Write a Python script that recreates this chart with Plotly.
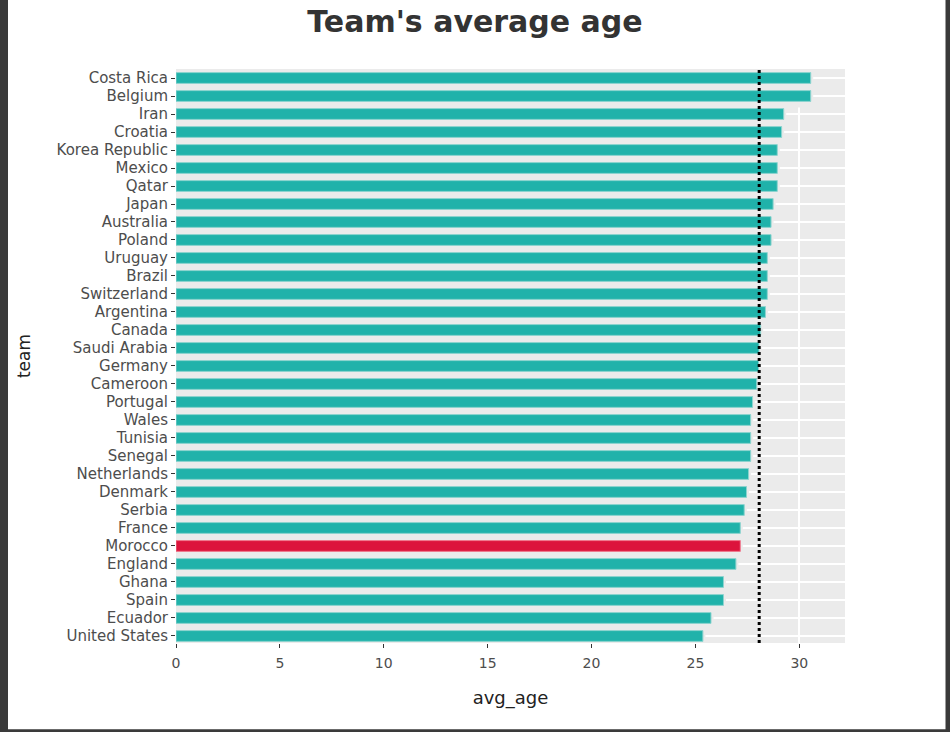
import plotly.graph_objects as go

# teams from the top of the chart down, with average squad age
teams = ["Costa Rica", "Belgium", "Iran", "Croatia", "Korea Republic", "Mexico",
         "Qatar", "Japan", "Australia", "Poland", "Uruguay", "Brazil",
         "Switzerland", "Argentina", "Canada", "Saudi Arabia", "Germany",
         "Cameroon", "Portugal", "Wales", "Tunisia", "Senegal", "Netherlands",
         "Denmark", "Serbia", "France", "Morocco", "England", "Ghana", "Spain",
         "Ecuador", "United States"]
avg_age = [30.55, 30.55, 29.25, 29.15, 28.94, 28.94,
           28.94, 28.74, 28.64, 28.64, 28.46, 28.46,
           28.46, 28.37, 28.14, 28.06, 28.04,
           27.95, 27.75, 27.66, 27.66, 27.66, 27.56,
           27.46, 27.35, 27.16, 27.16, 26.95, 26.35, 26.35,
           25.75, 25.36]
mean_age = 28.07
highlight = "Morocco"
x_ticks = [0, 5, 10, 15, 20, 25, 30]

# plotly draws the first category at the bottom, so reverse
teams_b = teams[::-1]
ages_b = avg_age[::-1]
colors = ["#DC143C" if t == highlight else "#20B2AA" for t in teams_b]
edges = ["#F07A8E" if t == highlight else "#8ED4CF" for t in teams_b]

bg = "#EBEBEB"

fig = go.Figure()
# panel-coloured backing so the grid only shows past the bar ends
fig.add_trace(go.Bar(
    x=ages_b, y=teams_b, orientation="h", width=1.0,
    marker=dict(color=bg, line=dict(color=bg, width=5)),
    hoverinfo="skip", showlegend=False,
))
fig.add_trace(go.Bar(
    x=ages_b, y=teams_b, orientation="h",
    width=0.6,
    marker=dict(color=colors, line=dict(color=edges, width=1)),
    hovertemplate="team: %{y}<br>avg_age: %{x}<extra></extra>",
    showlegend=False,
))

# dotted mean line
fig.add_shape(type="line", x0=mean_age, x1=mean_age, xref="x",
              y0=0, y1=1, yref="paper",
              line=dict(color="black", width=3, dash="dot"))

# dark screenshot frame
frame = "#3A3A3A"
pw, ph = 669, 574
fig.add_shape(type="rect", xref="paper", yref="paper",
              x0=-176/pw, x1=-168/pw, y0=-89/ph, y1=643/ph,
              fillcolor=frame, line_width=0, layer="below")
fig.add_shape(type="rect", xref="paper", yref="paper",
              x0=769.5/pw, x1=774/pw, y0=-89/ph, y1=643/ph,
              fillcolor=frame, line_width=0, layer="below")
fig.add_shape(type="rect", xref="paper", yref="paper",
              x0=-176/pw, x1=774/pw, y0=-89/ph, y1=-86.3/ph,
              fillcolor=frame, line_width=0, layer="below")

label_col = "rgba(77,77,77,1)"

fig.update_layout(
    width=950, height=732,
    margin=dict(l=176, r=105, t=69, b=89),
    paper_bgcolor="white",
    plot_bgcolor=bg,
    barmode="overlay",
    title=dict(text="<b>Team's average age</b>", x=0.5, xref="container",
               xanchor="center", y=1 - 21.5/732, yref="container",
               yanchor="middle",
               font=dict(family="DejaVu Sans", size=30, color="#333333")),
    xaxis=dict(
        range=[0, 32.2], tickvals=x_ticks,
        ticks="outside", ticklen=4, tickwidth=1.3, tickcolor="#333333",
        ticklabelstandoff=3,
        tickfont=dict(family="DejaVu Sans", size=14, color=label_col),
        showgrid=True, gridcolor="white", gridwidth=1.5,
        zeroline=False, showline=False,
        title=dict(text="avg_age", standoff=21,
                   font=dict(family="DejaVu Sans", size=18, color="#222222")),
        fixedrange=True,
    ),
    yaxis=dict(
        categoryorder="array", categoryarray=teams_b,
        tickmode="array", tickvals=teams_b, ticktext=teams_b,
        range=[-0.39, 31.5],
        ticks="outside", ticklen=4, tickwidth=1.3, tickcolor="#333333",
        tickfont=dict(family="DejaVu Sans", size=15, color=label_col),
        showgrid=True, gridcolor="white", gridwidth=1.5,
        zeroline=False, showline=False,
        title=dict(text="team", standoff=21,
                   font=dict(family="DejaVu Sans", size=17, color="#222222")),
        fixedrange=True,
    ),
)

fig.write_html("out.html", config={"displayModeBar": False},
               post_script="document.body.style.margin='0';")
